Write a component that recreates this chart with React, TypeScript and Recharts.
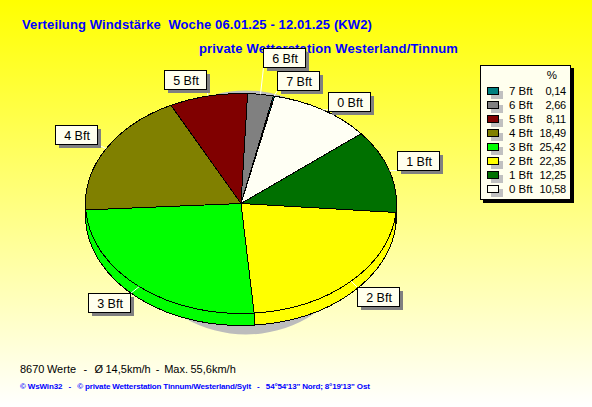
import { Legend, Pie, PieChart } from 'recharts';

const categories = ['0 Bft', '1 Bft', '2 Bft', '3 Bft', '4 Bft', '5 Bft', '6 Bft', '7 Bft'];
const shares = [10.58, 12.25, 22.35, 25.42, 18.49, 8.11, 2.66, 0.14];
const colors = ['#fffff4', '#007000', '#ffff00', '#00ff00', '#808000', '#800000', '#808080', '#008080'];
const shadowValue = [100];

const slices = categories.map((name, i) => ({ name, value: shares[i], fill: colors[i] }));
const font = '"Liberation Sans", Arial, sans-serif';
const TILT = 110 / 155.5;
const DEPTH = 12;
const RAD = Math.PI / 180;

// box top-left relative to the point on the rim, one per label
const labelNudge: Record<string, [number, number]> = {
  '0 Bft': [6, -18],
  '1 Bft': [8, -19.5],
  '2 Bft': [6, 6],
  '3 Bft': [-51, 6],
  '4 Bft': [-51, -24],
  '5 Bft': [-44, -25.5],
  '6 Bft': [2, -46.5],
  '7 Bft': [3.5, -25.5],
};

function point(cx: number, cy: number, r: number, deg: number) {
  return [cx + r * Math.cos(deg * RAD), cy - r * TILT * Math.sin(deg * RAD)];
}

function clamp(v: number, lo: number, hi: number) {
  return Math.max(lo, Math.min(hi, v));
}

function TopFace({ cx, cy, outerRadius: r, startAngle, endAngle, fill }: any) {
  const [x1, y1] = point(cx, cy, r, startAngle);
  const [x2, y2] = point(cx, cy, r, endAngle);
  const large = startAngle - endAngle > 180 ? 1 : 0;
  const d = `M${cx} ${cy}L${x1} ${y1}A${r} ${r * TILT} 0 ${large} 1 ${x2} ${y2}Z`;
  return <path d={d} fill={fill} stroke="#000" strokeWidth={1} shapeRendering="crispEdges" />;
}

// side wall only shows on the front half of the ellipse
function SideWall({ cx, cy, outerRadius: r, startAngle, endAngle, fill }: any) {
  const a = Math.min(startAngle, 0);
  const b = Math.max(endAngle, -180);
  if (a <= b) return <g />;
  const [x1, y1] = point(cx, cy, r, a);
  const [x2, y2] = point(cx, cy, r, b);
  const ry = r * TILT;
  const d = `M${x1} ${y1}A${r} ${ry} 0 0 1 ${x2} ${y2}L${x2} ${y2 + DEPTH}A${r} ${ry} 0 0 0 ${x1} ${y1 + DEPTH}Z`;
  return <path d={d} fill={fill} stroke="#000" strokeWidth={1} shapeRendering="crispEdges" />;
}

function SliceLabel({ cx, cy, outerRadius, midAngle, name }: any) {
  const [ex, ey] = point(cx, cy, outerRadius, midAngle);
  const [dx, dy] = labelNudge[name];
  const w = 42;
  const h = 19;
  const x = Math.round(ex + dx) + 0.5;
  const y = Math.round(ey + dy) + 0.5;
  return (
    <g>
      <line x1={ex} y1={ey} x2={clamp(ex, x, x + w)} y2={clamp(ey, y, y + h)} stroke="#fff" strokeWidth={1} />
      <rect x={x + 3} y={y + 3} width={w} height={h} fill="#808080" shapeRendering="crispEdges" />
      <rect x={x} y={y} width={w} height={h} fill="#ffffee" stroke="#000" strokeWidth={1} shapeRendering="crispEdges" />
      <text x={x + w / 2 + 0.5} y={y + 14} textAnchor="middle" fontFamily={font} fontSize={12.5} fill="#000">
        {name}
      </text>
    </g>
  );
}

function LegendBox() {
  const rows = categories.map((name, i) => ({ name, share: shares[i], color: colors[i] })).reverse();
  return (
    <div style={{ position: 'relative', width: 91, height: 135, background: '#ffffee', border: '1px solid #000', boxSizing: 'border-box', boxShadow: '3px 3px 0 #000', fontFamily: font, fontSize: 11.5, color: '#000' }}>
      <div style={{ position: 'absolute', right: 13, top: 3 }}>%</div>
      {rows.map((row, i) => (
        <div key={row.name} style={{ position: 'absolute', left: 0, right: 0, top: 18 + i * 14, height: 14, lineHeight: '14px' }}>
          <div style={{ position: 'absolute', left: 6, top: 3, width: 12, height: 8, background: row.color, border: '1px solid #000', boxSizing: 'border-box', boxShadow: '4px 4px 0 #c0c0c0' }} />
          <span style={{ position: 'absolute', left: 28 }}>{row.name}</span>
          <span style={{ position: 'absolute', right: 4, fontSize: 11, letterSpacing: -0.2 }}>{row.share.toFixed(2).replace('.', ',')}</span>
        </div>
      ))}
    </div>
  );
}

const textBase = { position: 'absolute', whiteSpace: 'pre', fontFamily: font } as const;

export default function App() {
  return (
    <div style={{ position: 'absolute', left: 0, top: 0, width: 592, height: 407, overflow: 'hidden', background: 'linear-gradient(#ffff00, #ffffff)' }}>
      <div style={{ ...textBase, left: 22, top: 17, fontSize: 13, fontWeight: 700, color: '#0000ff', letterSpacing: 0.12 }}>
        Verteilung Windstärke  Woche 06.01.25 - 12.01.25 (KW2)
      </div>
      <div style={{ ...textBase, left: 199, top: 41, fontSize: 13, fontWeight: 700, color: '#0000ff', letterSpacing: 0.16 }}>
        private Wetterstation Westerland/Tinnum
      </div>
      <div style={{ ...textBase, left: 20, top: 363, fontSize: 11, color: '#000', wordSpacing: -0.6 }}>
        8670 Werte   -   Ø 14,5km/h  -  Max. 55,6km/h
      </div>
      <div style={{ ...textBase, left: 20, top: 382, fontSize: 8, fontWeight: 700, color: '#0000ff', letterSpacing: -0.15 }}>
        © WsWin32   -   © private Wetterstation Tinnum/Westerland/Sylt   -   54°54'13" Nord; 8°19'13" Ost
      </div>
      <div style={{ position: 'absolute', left: 0, top: 0 }}>
        <PieChart width={592} height={407} margin={{ top: 0, right: 0, bottom: 0, left: 0 }}>
          <Pie data={shadowValue.map((value) => ({ value }))} dataKey="value" cx={246} cy={212.5} outerRadius={122} fill="#bcbcbc" stroke="none" isAnimationActive={false} />
          <Pie data={slices} dataKey="value" cx={241} cy={203.5} outerRadius={155.5} startAngle={77.5} endAngle={-282.5} shape={SideWall} isAnimationActive={false} />
          <Pie data={slices} dataKey="value" nameKey="name" cx={241} cy={203.5} outerRadius={155.5} startAngle={77.5} endAngle={-282.5} shape={TopFace} label={SliceLabel} labelLine={false} isAnimationActive={false} />
          <Legend content={<LegendBox />} layout="vertical" align="right" verticalAlign="top" wrapperStyle={{ position: 'absolute', left: 480, top: 65, width: 91 }} />
        </PieChart>
      </div>
    </div>
  );
}
